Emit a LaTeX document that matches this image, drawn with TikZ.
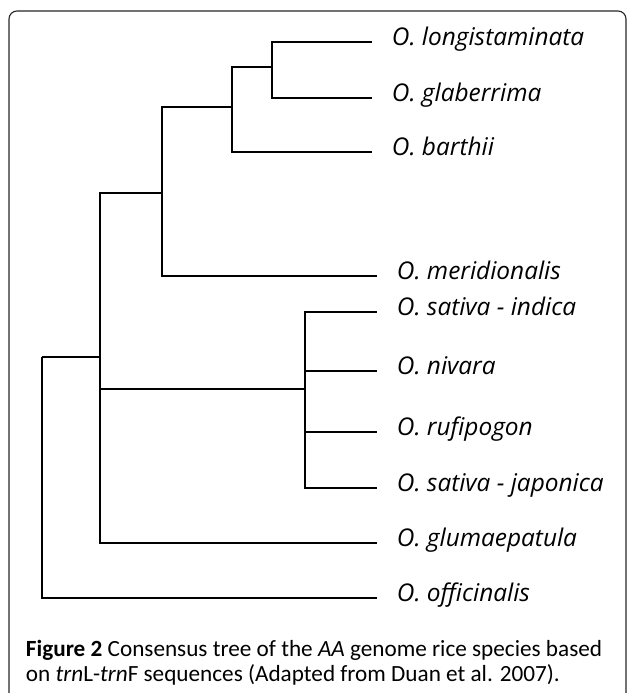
\documentclass[tikz,border=0pt]{standalone}
\usepackage{fontspec}
\setmainfont{Carlito}
\newfontfamily\leaffont{Open Sans}
\begin{document}
\begin{tikzpicture}[x=1pt, y=-1pt, line width=1.9pt,
        leaf/.style={anchor=west, inner xsep=19pt, inner ysep=0pt, text height=0.9em, text depth=0.25em, font=\leaffont\itshape\fontsize{24.4}{28}\selectfont}]
        \useasboundingbox (0,0) rectangle (627,693);
        \draw[line width=1.1pt, rounded corners=8pt, black!85] (9,11) rectangle (626,705);

        \node (lon) [leaf] at (372,42) {O. longistaminata};
        \node (gla) [leaf] at (372,98) {O. glaberrima};
        \node (bar) [leaf] at (372,152) {O. barthii};
        \node (mer) [leaf] at (377,276) {O. meridionalis};
        \node (ind) [leaf] at (377,312) {O. sativa - indica};
        \node (niv) [leaf] at (377,371) {O. nivara};
        \node (ruf) [leaf] at (377,432) {O. rufipogon};
        \node (jap) [leaf] at (377,488) {O. sativa - japonica};
        \node (glu) [leaf] at (377,543) {O. glumaepatula};
        \node (off) [leaf] at (377,598) {O. officinalis};

        \coordinate (afr) at (272,67);
        \coordinate (grp) at (232,107);
        \coordinate (upp) at (162,193);
        \coordinate (sat) at (305,389);
        \coordinate (aa) at (100,357);
        \coordinate (root) at (42,357);

        \draw (afr) |- (lon.west);
        \draw (afr) |- (gla.west);
        \draw (grp) |- (afr);
        \draw (grp) |- (bar.west);
        \draw (upp) |- (grp);
        \draw (upp) |- (mer.west);
        \draw (sat) |- (ind.west);
        \draw (sat) |- (niv.west);
        \draw (sat) |- (ruf.west);
        \draw (sat) |- (jap.west);
        \draw (aa) |- (upp);
        \draw (aa) |- (sat);
        \draw (aa) |- (glu.west);
        \draw (root) -- (aa);
        \draw (root) |- (off.west);

        \node (caption) [anchor=north west, align=left, inner sep=0pt, font=\fontsize{23.2}{25}\selectfont] at (25,639) {\textbf{Figure 2} Consensus tree of the \textit{AA} genome rice species based\\on \textit{trn}L-\textit{trn}F sequences (Adapted from Duan et al. 2007).};
    \end{tikzpicture}
\end{document}
